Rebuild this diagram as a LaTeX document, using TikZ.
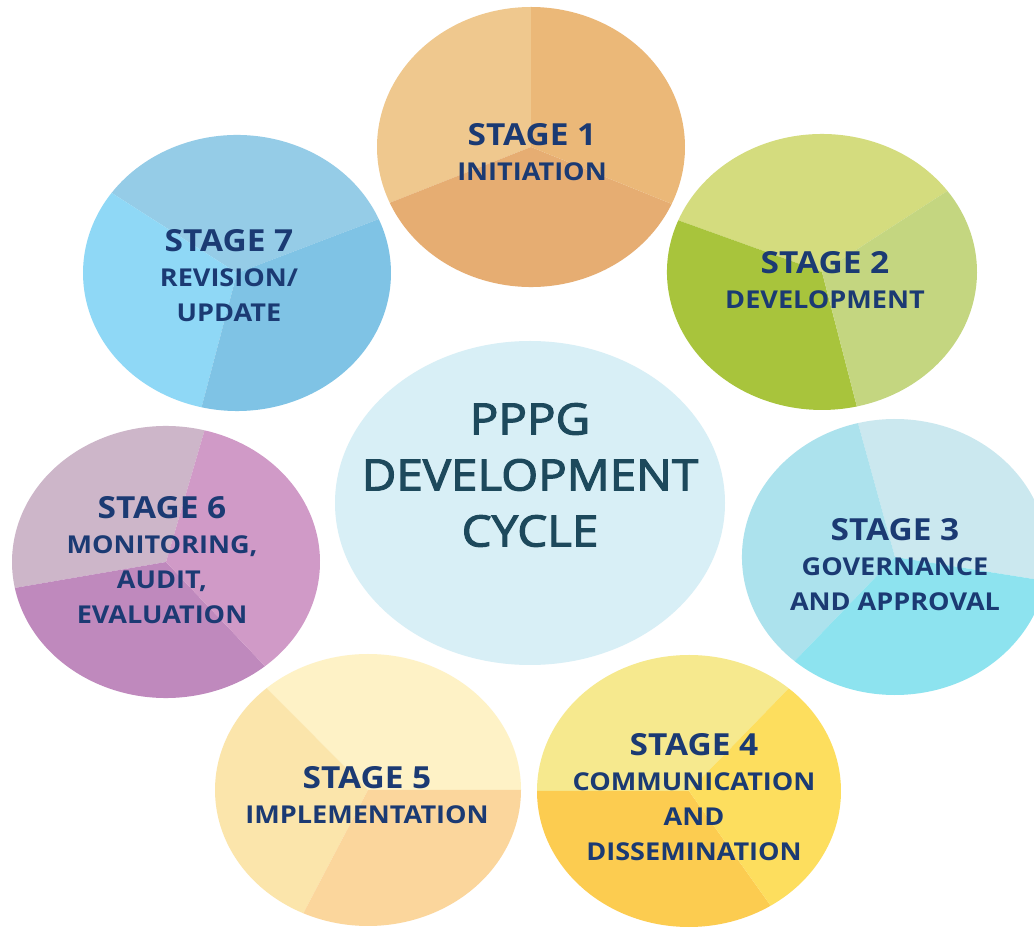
\documentclass[tikz,border=0pt]{standalone}
\usepackage{fontspec}
\setmainfont{Open Sans}[FakeStretch=1.1]
\newfontfamily\hubfont{Open Sans}[FakeStretch=1.1,FakeBold=2.6]
\usepackage{xcolor}

\definecolor{ink}{HTML}{1B3A73}
\definecolor{hubink}{HTML}{1D495C}
\definecolor{hubfill}{HTML}{D8EFF6}
\definecolor{oneA}{HTML}{EFC88E}
\definecolor{oneB}{HTML}{EBB878}
\definecolor{oneC}{HTML}{E6AD72}
\definecolor{twoA}{HTML}{D4DC7E}
\definecolor{twoB}{HTML}{A8C43C}
\definecolor{twoC}{HTML}{C4D680}
\definecolor{threeA}{HTML}{CBE8EF}
\definecolor{threeB}{HTML}{ACE2ED}
\definecolor{threeC}{HTML}{8DE3EF}
\definecolor{fourA}{HTML}{F6E98E}
\definecolor{fourB}{HTML}{FCCC50}
\definecolor{fourC}{HTML}{FDDE5E}
\definecolor{fiveA}{HTML}{FEF2C6}
\definecolor{fiveB}{HTML}{FBE5AB}
\definecolor{fiveC}{HTML}{FBD69C}
\definecolor{sixA}{HTML}{CDB6C9}
\definecolor{sixB}{HTML}{BF89BD}
\definecolor{sixC}{HTML}{D09AC7}
\definecolor{sevenA}{HTML}{95CCE7}
\definecolor{sevenB}{HTML}{8FD8F6}
\definecolor{sevenC}{HTML}{7FC3E5}

\newcommand{\stagehead}[1]{{\fontsize{15.2}{17.5}\selectfont #1}}

\begin{document}
\begin{tikzpicture}[x=0.5pt,y=0.5pt,
  stagetext/.style={text=ink,align=center,inner sep=0,
    font=\bfseries\fontsize{12.3}{17.5}\selectfont},
  hubtext/.style={text=hubink,align=center,inner sep=0,
    font=\hubfont\fontsize{21.6}{28}\selectfont}]
\useasboundingbox[fill=white] (0,0) rectangle (1034,927);
\fill[hubfill] (530,424) ellipse[x radius=195,y radius=162];
\node[hubtext] (hub) at (530,452) {PPPG\\DEVELOPMENT\\CYCLE};
\fill[oneA] (531,780) -- +(90:154 and 140) arc[start angle=90,end angle=203.5,x radius=154,y radius=140] -- cycle;
\fill[oneC] (531,780) -- +(203.5:154 and 140) arc[start angle=203.5,end angle=336,x radius=154,y radius=140] -- cycle;
\fill[oneB] (531,780) -- +(336:154 and 140) arc[start angle=336,end angle=450,x radius=154,y radius=140] -- cycle;
\node[stagetext] (s1) at (532,775) {\stagehead{STAGE 1}\\INITIATION};
\fill[twoA] (822,655) -- +(36:155 and 138) arc[start angle=36,end angle=158,x radius=155,y radius=138] -- cycle;
\fill[twoB] (822,655) -- +(158:155 and 138) arc[start angle=158,end angle=283,x radius=155,y radius=138] -- cycle;
\fill[twoC] (822,655) -- +(283:155 and 138) arc[start angle=283,end angle=396,x radius=155,y radius=138] -- cycle;
\node[stagetext] (s2) at (825,647) {\stagehead{STAGE 2}\\DEVELOPMENT};
\fill[threeA] (895,370) -- +(-10:153 and 138) arc[start angle=-10,end angle=104,x radius=153,y radius=138] -- cycle;
\fill[threeB] (895,370) -- +(104:153 and 138) arc[start angle=104,end angle=229,x radius=153,y radius=138] -- cycle;
\fill[threeC] (895,370) -- +(229:153 and 138) arc[start angle=229,end angle=350,x radius=153,y radius=138] -- cycle;
\node[stagetext] (s3) at (895,362) {\stagehead{STAGE 3}\\GOVERNANCE\\AND APPROVAL};
\fill[fourA] (689,136) -- +(49:152 and 136) arc[start angle=49,end angle=180,x radius=152,y radius=136] -- cycle;
\fill[fourB] (689,136) -- +(180:152 and 136) arc[start angle=180,end angle=302.5,x radius=152,y radius=136] -- cycle;
\fill[fourC] (689,136) -- +(302.5:152 and 136) arc[start angle=302.5,end angle=409,x radius=152,y radius=136] -- cycle;
\node[stagetext] (s4) at (694,130) {\stagehead{STAGE 4}\\COMMUNICATION\\AND\\DISSEMINATION};
\fill[fiveA] (368,137) -- +(0:153 and 136) arc[start angle=0,end angle=131.5,x radius=153,y radius=136] -- cycle;
\fill[fiveB] (368,137) -- +(131.5:153 and 136) arc[start angle=131.5,end angle=245,x radius=153,y radius=136] -- cycle;
\fill[fiveC] (368,137) -- +(245:153 and 136) arc[start angle=245,end angle=360,x radius=153,y radius=136] -- cycle;
\node[stagetext] (s5) at (367,132) {\stagehead{STAGE 5}\\IMPLEMENTATION};
\fill[sixA] (166,365) -- +(75.5:154 and 136) arc[start angle=75.5,end angle=191,x radius=154,y radius=136] -- cycle;
\fill[sixB] (166,365) -- +(191:154 and 136) arc[start angle=191,end angle=310,x radius=154,y radius=136] -- cycle;
\fill[sixC] (166,365) -- +(310:154 and 136) arc[start angle=310,end angle=435.5,x radius=154,y radius=136] -- cycle;
\node[stagetext] (s6) at (162,367) {\stagehead{STAGE 6}\\MONITORING,\\AUDIT,\\EVALUATION};
\fill[sevenA] (237,654) -- +(23:154 and 138) arc[start angle=23,end angle=144.5,x radius=154,y radius=138] -- cycle;
\fill[sevenB] (237,654) -- +(144.5:154 and 138) arc[start angle=144.5,end angle=256.7,x radius=154,y radius=138] -- cycle;
\fill[sevenC] (237,654) -- +(256.7:154 and 138) arc[start angle=256.7,end angle=383,x radius=154,y radius=138] -- cycle;
\node[stagetext] (s7) at (229,651) {\stagehead{STAGE 7}\\REVISION/\\UPDATE};
\end{tikzpicture}
\end{document}
